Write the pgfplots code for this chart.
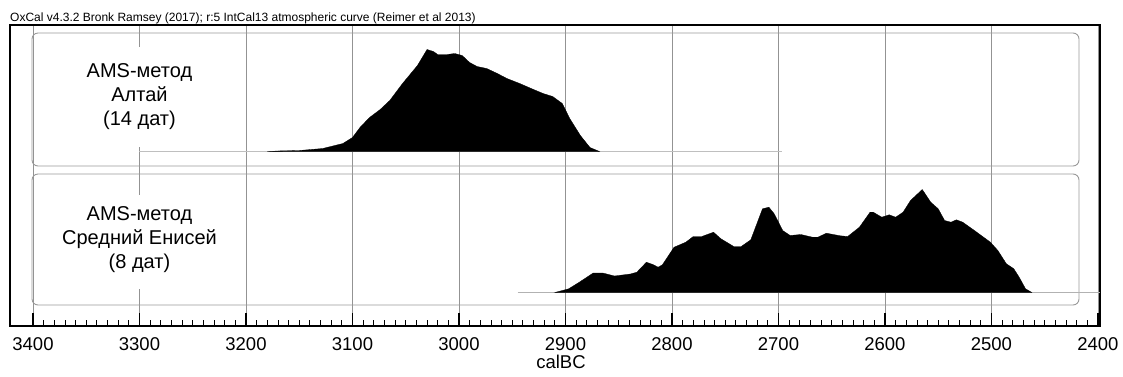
\documentclass[border=0pt]{standalone}
\usepackage{pgfplots}
\pgfplotsset{compat=1.18}
\usepackage{pgfplotstable}
\usepackage{fontspec}
\setmainfont{Liberation Sans}

% Altai (14 dates): calendar year BC, height above baseline
\pgfplotstableread{
yr h
3180 0
3168 0.6
3150 1.0
3128 3
3109 8
3100 14
3093 24
3084 34
3074 42
3065 51
3053 68
3039 86
3030 102
3024 100
3020 97
3011 97
3004 98
2997 96
2990 89
2983 85
2974 83
2964 78
2955 73
2943 68
2930 62
2921 58
2912 55
2903 48
2896 33
2886 16
2877 4
2868 0
}\altai

% Middle Yenisei (8 dates)
\pgfplotstableread{
yr h
2910 0
2897 3.7
2887 10.3
2874 19.5
2865 19.5
2854 16.5
2839 18.5
2833 20.3
2824 30.3
2818 28
2813 25.3
2809 27.7
2798 45.3
2787 50.3
2780 56
2772 56
2761 60.3
2754 53.7
2742 46
2735 46
2726 52.7
2715 83.7
2709 85.3
2704 78.7
2696 62
2689 57
2679 58
2668 55.3
2663 55.3
2655 59.3
2642 56.7
2635 56
2624 65.3
2614 80.3
2611 80.3
2603 75.3
2596 77.7
2590 75.3
2583 80.3
2576 92
2565 103
2557 90.3
2550 83.7
2544 72
2538 70.3
2533 72.7
2527 70.3
2516 62
2501 50.3
2494 42
2486 28.7
2479 23.7
2474 15.3
2468 3.7
2462 0
}\yenisei

\begin{document}
\begin{tikzpicture}
\begin{axis}[
  at={(0pt,0pt)}, anchor=south west,
  scale only axis, width=1090pt, height=301pt,
  x dir=reverse, xmin=2398.1, xmax=3421.6, ymin=0, ymax=301,
  xtick={2400,2500,...,3400}, minor x tick num=9,
  ytick=\empty,
  xtick pos=left, tick align=inside,
  major tick length=13pt, minor tick length=6pt,
  every major tick/.append style={black, line width=1.4pt},
  every minor tick/.append style={black, line width=0.8pt},
  xmajorgrids, major grid style={gray!85, line width=0.8pt},
  axis line style={black, line width=1.2pt},
  scaled x ticks=false,
  xticklabel style={font=\fontsize{18.5}{20}\selectfont, anchor=base, yshift=-24pt,
    /pgf/number format/assume math mode=true, /pgf/number format/1000 sep={}},
  xlabel={calBC},
  xlabel style={font=\fontsize{18.5}{20}\selectfont, at={(rel axis cs:0.5055,0)}, anchor=base, yshift=-42.5pt},
]
% white areas behind the labels
\fill[white] (axis cs:3392,37) rectangle (axis cs:3210,131);
\fill[white] (axis cs:3392,179) rectangle (axis cs:3210,279);
% rounded panels
\draw[gray!80, line width=0.9pt, rounded corners=6pt] (axis cs:3400.9,21) rectangle (axis cs:2417.8,152);
\draw[gray!80, line width=0.9pt, rounded corners=6pt] (axis cs:3400.9,160) rectangle (axis cs:2417.8,293);
% baselines
\addplot[gray!50, line width=0.8pt] coordinates {(3300,174.5) (2697,174.5)};
\addplot[gray!60, line width=0.8pt] coordinates {(2945,33.5) (2398.1,33.5)};
% distributions
\addplot[fill=black, draw=black, line width=0.3pt] table[x=yr, y expr=\thisrow{h}+174.5] {\altai} -- cycle;
\addplot[fill=black, draw=black, line width=0.3pt] table[x=yr, y expr=\thisrow{h}+33.5] {\yenisei} -- cycle;
% labels
\node[align=center, font=\fontsize{20}{24}\selectfont] at (axis cs:3300,229) {AMS-метод\\Алтай\\(14 дат)};
\node[align=center, font=\fontsize{20}{24}\selectfont] at (axis cs:3300,86) {AMS-метод\\Средний Енисей\\(8 дат)};
% heavier bottom axis line
\draw[black, line width=2pt] (rel axis cs:0,0) -- (rel axis cs:1,0);
\end{axis}
\node[anchor=base west, inner sep=0pt, font=\fontsize{12}{13}\selectfont] at (0pt,305pt) {OxCal v4.3.2 Bronk Ramsey (2017); r:5 IntCal13 atmospheric curve (Reimer et al 2013)};
\pgfresetboundingbox
\path[use as bounding box] (-10pt,-50pt) rectangle (1113pt,326pt);
\end{tikzpicture}
\end{document}
